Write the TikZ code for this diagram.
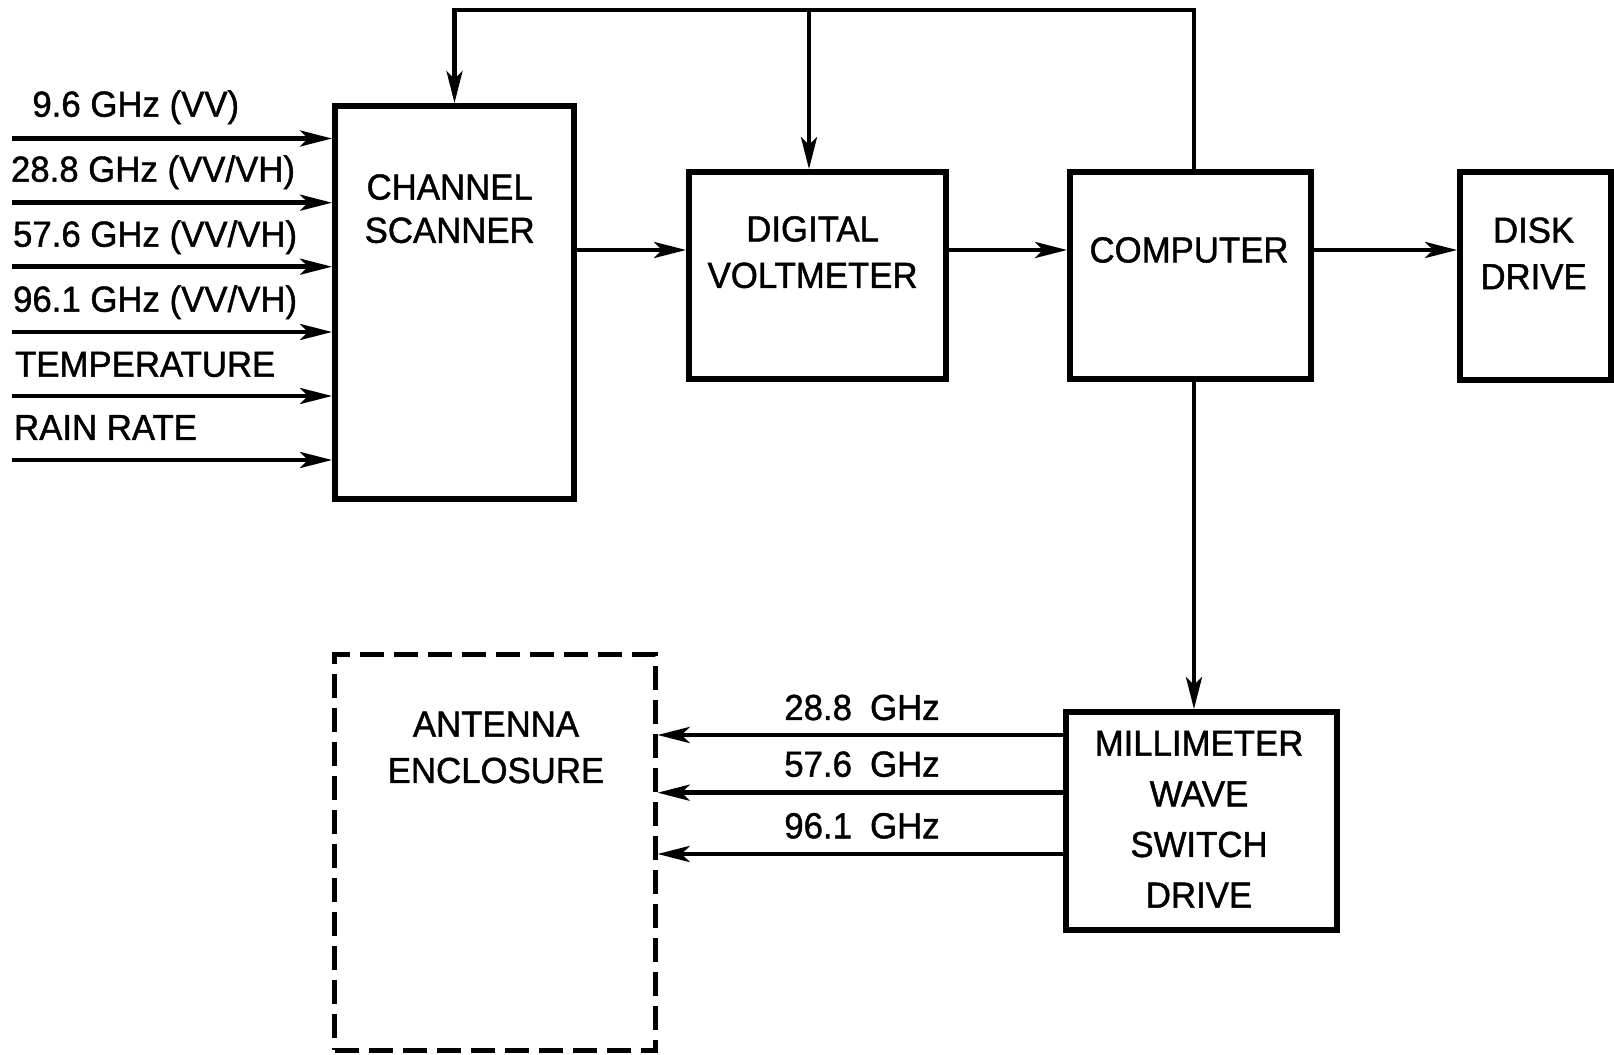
\documentclass[tikz,border=0pt]{standalone}
\usepackage{fontspec}
\setmainfont{Liberation Sans}[FakeStretch=0.96, FakeBold=1.2]
\usetikzlibrary{arrows.meta, positioning}

\begin{document}
\begin{tikzpicture}[
    x=0.01cm, y=-0.01cm,
    font=\fontsize{10.3}{13.2}\selectfont,
    box/.style={rectangle, draw, line width=1.6pt, inner sep=0pt},
    dashbox/.style={rectangle, draw, line width=1.4pt,
                    dash pattern=on 0.24cm off 0.1cm},
    boxtext/.style={align=center, inner sep=0pt},
    lbl/.style={inner sep=0pt, anchor=base west},
    freq/.style={inner sep=0pt, anchor=base},
    arr/.style={-{Stealth[length=0.32cm, width=0.16cm, inset=0.08cm]}, line width=1.3pt}
]
\useasboundingbox (0,0) rectangle (1614,1055);

% blocks
\node[box, minimum width=2.39cm, minimum height=3.93cm] (cs) at (454.5,302.5) {};
\node[box, minimum width=2.57cm, minimum height=2.07cm] (dv) at (817.5,275.5) {};
\node[box, minimum width=2.41cm, minimum height=2.07cm] (cp) at (1190.5,275.5) {};
\node[box, minimum width=1.51cm, minimum height=2.08cm] (dd) at (1535.5,276) {};
\node[box, minimum width=2.71cm, minimum height=2.18cm] (mw) at (1201.5,821) {};
\node[dashbox, minimum width=3.20cm, minimum height=3.95cm] (ae) at (495,852.5) {};

% block texts
\node[boxtext, font=\fontsize{10.3}{12.3}\selectfont] (cstext) at (449.7,208.7) {CHANNEL\\SCANNER};
\node[boxtext] (dvtext) at (812.6,252.2) {DIGITAL\\VOLTMETER};
\node[boxtext] (cptext) at (1189,250) {COMPUTER};
\node[boxtext] (ddtext) at (1533.6,253.3) {DISK\\DRIVE};
\node[boxtext, font=\fontsize{10.3}{14.4}\selectfont] (mwtext) at (1199,819.2) {MILLIMETER\\WAVE\\SWITCH\\DRIVE};
\node[boxtext] (aetext) at (496,747.5) {ANTENNA\\ENCLOSURE};

% inputs to the scanner
\node[lbl] (l1) at (31.7,116.7) {9.6 GHz (VV)};
\node[lbl] (l2) at (10.3,181.7) {28.8 GHz (VV/VH)};
\node[lbl] (l3) at (12.4,246.7) {57.6 GHz (VV/VH)};
\node[lbl] (l4) at (12.4,311.7) {96.1 GHz (VV/VH)};
\node[lbl] (l5) at (14.4,376.7) {TEMPERATURE};
\node[lbl] (l6) at (13.4,440) {RAIN RATE};

\foreach \y/\n in {138.5/1, 202.7/2, 266.7/3, 332/4, 396/5, 460/6} {
    \coordinate (in\n) at (12,\y);
    \draw[arr] (in\n) -- (cs.west |- in\n);
}

% main chain
\coordinate (row) at (0,250);
\draw[arr] (cs.east |- row) -- (dv.west |- row);
\draw[arr] (dv.east |- row) -- (cp.west |- row);
\draw[arr] (cp.east |- row) -- (dd.west |- row);

% control bus
\coordinate (busR) at (1194,10);
\coordinate (busM) at (809,10);
\draw[arr] (cp.north -| busR) -- (busR) -| (cs.north);
\draw[arr] (busM) -- (dv.north -| busM);
\draw[arr] (cp.south -| busR) -- (mw.north -| busR);

% switch drive lines
\node[freq] (f1) at (862,720) {28.8\enspace GHz};
\node[freq] (f2) at (862,776.7) {57.6\enspace GHz};
\node[freq] (f3) at (862,838.3) {96.1\enspace GHz};

\foreach \y/\n in {735/1, 792.7/2, 854/3} {
    \coordinate (out\n) at (0,\y);
    \draw[arr] (mw.west |- out\n) -- (ae.east |- out\n);
}
\end{tikzpicture}
\end{document}
